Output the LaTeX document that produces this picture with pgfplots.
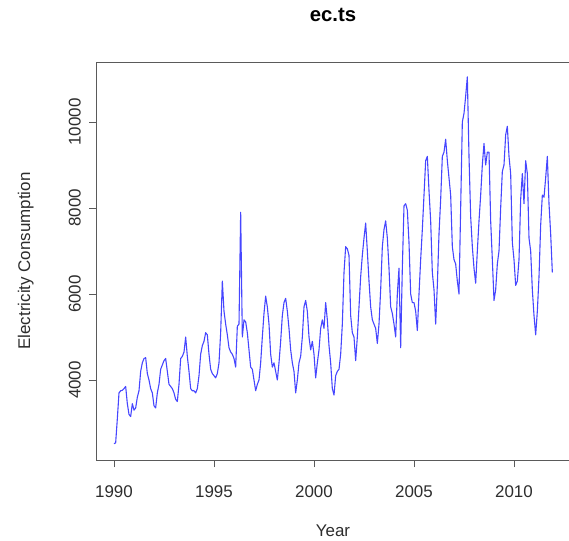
\documentclass[border=0pt]{standalone}
\usepackage{pgfplots}
\usepackage{pgfplotstable}
\pgfplotsset{compat=1.18}
\usepackage{fontspec}
\setmainfont{Liberation Sans}
\definecolor{serblue}{RGB}{70,70,255}
\definecolor{axgray}{RGB}{90,90,90}
\definecolor{txtgray}{RGB}{45,45,45}
\pgfplotstableread{
year month value
1990 1 2520
1990 2 2540
1990 3 3100
1990 4 3700
1990 5 3750
1990 6 3760
1990 7 3800
1990 8 3850
1990 9 3450
1990 10 3200
1990 11 3150
1990 12 3450
1991 1 3300
1991 2 3350
1991 3 3600
1991 4 3750
1991 5 4200
1991 6 4400
1991 7 4500
1991 8 4520
1991 9 4150
1991 10 4000
1991 11 3800
1991 12 3700
1992 1 3400
1992 2 3350
1992 3 3700
1992 4 3900
1992 5 4250
1992 6 4350
1992 7 4450
1992 8 4500
1992 9 4200
1992 10 3900
1992 11 3850
1992 12 3800
1993 1 3700
1993 2 3550
1993 3 3500
1993 4 3900
1993 5 4500
1993 6 4550
1993 7 4650
1993 8 5000
1993 9 4550
1993 10 4200
1993 11 3800
1993 12 3750
1994 1 3750
1994 2 3700
1994 3 3800
1994 4 4100
1994 5 4600
1994 6 4800
1994 7 4900
1994 8 5100
1994 9 5050
1994 10 4600
1994 11 4250
1994 12 4150
1995 1 4100
1995 2 4050
1995 3 4150
1995 4 4400
1995 5 5100
1995 6 6300
1995 7 5600
1995 8 5300
1995 9 5050
1995 10 4750
1995 11 4650
1995 12 4600
1996 1 4500
1996 2 4300
1996 3 5250
1996 4 5300
1996 5 7900
1996 6 5000
1996 7 5400
1996 8 5350
1996 9 5100
1996 10 4700
1996 11 4300
1996 12 4250
1997 1 4000
1997 2 3750
1997 3 3900
1997 4 4000
1997 5 4400
1997 6 5000
1997 7 5550
1997 8 5950
1997 9 5700
1997 10 5300
1997 11 4600
1997 12 4300
1998 1 4400
1998 2 4200
1998 3 4000
1998 4 4400
1998 5 4900
1998 6 5500
1998 7 5800
1998 8 5900
1998 9 5600
1998 10 5200
1998 11 4700
1998 12 4400
1999 1 4200
1999 2 3700
1999 3 4000
1999 4 4400
1999 5 4550
1999 6 5000
1999 7 5700
1999 8 5850
1999 9 5600
1999 10 5000
1999 11 4700
1999 12 4900
2000 1 4600
2000 2 4050
2000 3 4400
2000 4 4700
2000 5 5200
2000 6 5400
2000 7 5200
2000 8 5800
2000 9 5400
2000 10 4800
2000 11 4400
2000 12 3800
2001 1 3650
2001 2 4100
2001 3 4200
2001 4 4250
2001 5 4600
2001 6 5300
2001 7 6500
2001 8 7100
2001 9 7050
2001 10 6900
2001 11 5500
2001 12 5100
2002 1 5000
2002 2 4450
2002 3 5000
2002 4 5700
2002 5 6400
2002 6 6900
2002 7 7300
2002 8 7650
2002 9 7000
2002 10 6300
2002 11 5700
2002 12 5400
2003 1 5300
2003 2 5200
2003 3 4850
2003 4 5300
2003 5 6100
2003 6 7100
2003 7 7500
2003 8 7700
2003 9 7300
2003 10 6600
2003 11 5700
2003 12 5550
2004 1 5300
2004 2 5000
2004 3 6000
2004 4 6600
2004 5 4750
2004 6 6600
2004 7 8050
2004 8 8100
2004 9 7950
2004 10 7200
2004 11 6000
2004 12 5800
2005 1 5800
2005 2 5600
2005 3 5150
2005 4 6000
2005 5 6800
2005 6 7500
2005 7 8300
2005 8 9100
2005 9 9200
2005 10 8400
2005 11 7700
2005 12 6500
2006 1 6100
2006 2 5300
2006 3 6200
2006 4 7400
2006 5 8200
2006 6 9200
2006 7 9300
2006 8 9600
2006 9 9100
2006 10 8700
2006 11 8300
2006 12 7100
2007 1 6800
2007 2 6700
2007 3 6300
2007 4 6000
2007 5 8000
2007 6 10000
2007 7 10200
2007 8 10600
2007 9 11050
2007 10 9200
2007 11 7800
2007 12 7100
2008 1 6600
2008 2 6250
2008 3 7000
2008 4 7700
2008 5 8300
2008 6 9000
2008 7 9500
2008 8 9000
2008 9 9300
2008 10 9300
2008 11 7700
2008 12 6800
2009 1 5850
2009 2 6100
2009 3 6700
2009 4 7000
2009 5 8000
2009 6 8850
2009 7 9000
2009 8 9700
2009 9 9900
2009 10 9200
2009 11 8800
2009 12 7200
2010 1 6800
2010 2 6200
2010 3 6300
2010 4 6800
2010 5 8200
2010 6 8800
2010 7 8100
2010 8 9100
2010 9 8800
2010 10 7300
2010 11 7000
2010 12 6100
2011 1 5500
2011 2 5050
2011 3 5600
2011 4 6400
2011 5 7600
2011 6 8300
2011 7 8250
2011 8 8700
2011 9 9200
2011 10 8100
2011 11 7400
2011 12 6500
}\ecdata
\begin{document}
\begin{tikzpicture}[x=1bp,y=1bp]
\begin{axis}[
  at={(96bp,81bp)}, anchor=south west,
  scale only axis, width=474bp, height=398bp,
  xmin=1989.1, xmax=2012.8, ymin=2140, ymax=11395,
  axis line style={draw=axgray, line width=0.9bp},
  xtick={1990,1995,2000,2005,2010},
  ytick={4000,6000,8000,10000},
  minor tick num=0,
  tick align=outside, major tick length=7bp,
  every tick/.style={draw=axgray, line width=0.9bp},
  xtick pos=bottom, ytick pos=left,
  /pgf/number format/set thousands separator={},
  /pgf/number format/1000 sep={},
  /pgf/number format/assume math mode=true,
  ticklabel style={font=\fontsize{17}{17}\selectfont, text=txtgray, inner sep=0pt},
  xticklabel style={anchor=north, yshift=-18bp},
  yticklabel style={xshift=-8bp, rotate=90, anchor=south},
  scaled y ticks=false,
  title={ec.ts},
  title style={at={(axis description cs:0.5,1.0879)}, anchor=base, inner sep=0pt,
    font=\bfseries\fontsize{20.4}{24}\selectfont, text=black},
  xlabel={Year},
  xlabel style={at={(axis description cs:0.5,-0.191)}, anchor=base, inner sep=0pt,
    font=\fontsize{17}{20}\selectfont, text=txtgray},
  ylabel={Electricity Consumption},
  ylabel style={at={(axis description cs:-0.139,0.5)}, anchor=base, rotate=0, inner sep=0pt,
    font=\fontsize{17}{20}\selectfont, text=txtgray},
  clip=false,
]
\addplot[serblue, line width=1.1bp, line join=round, mark=none]
  table[x expr={\thisrow{year}+(\thisrow{month}-1)/12}, y=value] {\ecdata};
\end{axis}
\pgfresetboundingbox
\useasboundingbox (0bp,0bp) rectangle (569bp,541bp);
\end{tikzpicture}
\end{document}
